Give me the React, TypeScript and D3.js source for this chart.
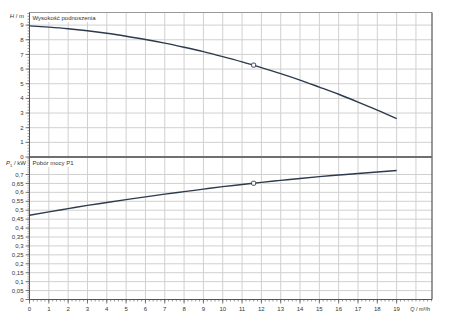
import React from "react";
import * as d3 from "d3";

// Pump curve: flow Q (m³/h) vs head H (m) and power input P1 (kW)
const flow = [0, 1, 2, 3, 4, 5, 6, 7, 8, 9, 10, 11, 12, 13, 14, 15, 16, 17, 18, 19];
const head = [8.95, 8.86, 8.75, 8.61, 8.44, 8.24, 8.02, 7.77, 7.49, 7.19, 6.85, 6.49, 6.1, 5.69, 5.25, 4.77, 4.28, 3.75, 3.2, 2.62];
const power = [0.472, 0.491, 0.509, 0.527, 0.543, 0.559, 0.575, 0.59, 0.604, 0.618, 0.632, 0.644, 0.656, 0.667, 0.678, 0.688, 0.697, 0.706, 0.714, 0.722];
const dutyPoint = { q: 11.6, h: 6.27, p: 0.651 };

const xTicks = d3.range(0, 20, 1);
const headTicks = d3.range(0, 10, 1);
const powerTicks = d3.range(0, 0.71, 0.05).map((v) => +v.toFixed(2));

const headTitle = "Wysokość podnoszenia";
const powerTitle = "Pobór mocy P1";

const W = 450;
const H = 331;
const left = 29.5;
const right = 432;
const top = 12.5;
const mid = 157;
const bottom = 299.5;

const fmt = (v: number) => String(v).replace(".", ",");

export default function App() {
  const x = d3.scaleLinear().domain([0, 20.83]).range([left, right]);
  const yH = d3.scaleLinear().domain([0, 9.86]).range([mid, top]);
  const yP = d3.scaleLinear().domain([0, 0.798]).range([bottom, mid]);

  const headLine = d3
    .line<number>()
    .x((_, i) => x(flow[i]))
    .y((d) => yH(d))
    .curve(d3.curveMonotoneX);
  const powerLine = d3
    .line<number>()
    .x((_, i) => x(flow[i]))
    .y((d) => yP(d))
    .curve(d3.curveMonotoneX);

  const gridX = d3.range(1, 21, 1);
  const minorX = d3.range(0, 20.81, 0.2);
  const minorH = d3.range(0, 9.85, 0.2);
  const minorP = d3.range(0, 0.796, 0.01);

  const grid = "#d0d0d0";
  const axis = "#555";
  const txt = "#333";
  const curve = "#2b3a4c";
  const font = "'Liberation Sans', Arial, sans-serif";

  return (
    <svg
      width={W}
      height={H}
      style={{ position: "absolute", left: 0, top: 0, background: "#fff" }}
      fontFamily={font}
    >
      {/* vertical grid */}
      {gridX.map((q) => (
        <line key={"gx" + q} x1={x(q)} x2={x(q)} y1={top} y2={bottom} stroke={grid} strokeWidth={1} />
      ))}
      {/* horizontal grid, head panel */}
      {headTicks.slice(1).map((h) => (
        <line key={"gh" + h} x1={left} x2={right} y1={yH(h)} y2={yH(h)} stroke={grid} strokeWidth={1} />
      ))}
      {/* horizontal grid, power panel */}
      {powerTicks.slice(1).map((p) => (
        <line key={"gp" + p} x1={left} x2={right} y1={yP(p)} y2={yP(p)} stroke={grid} strokeWidth={1} />
      ))}

      {/* frame */}
      <line x1={left} x2={right} y1={top} y2={top} stroke="#999" strokeWidth={1} />
      <line x1={right} x2={right} y1={top} y2={bottom} stroke={axis} strokeWidth={1.2} />
      <line x1={left} x2={right} y1={mid} y2={mid} stroke="#6f6f6f" strokeWidth={2} />
      <line x1={left} x2={left} y1={top} y2={bottom} stroke={axis} strokeWidth={1} />
      <line x1={left} x2={right} y1={bottom} y2={bottom} stroke={axis} strokeWidth={1} />

      {/* y minor ticks */}
      {minorH.map((h, i) => (
        <line key={"mh" + i} x1={left - 2} x2={left} y1={yH(h)} y2={yH(h)} stroke={axis} strokeWidth={0.6} />
      ))}
      {minorP.map((p, i) => (
        <line key={"mp" + i} x1={left - 2} x2={left} y1={yP(p)} y2={yP(p)} stroke={axis} strokeWidth={0.5} />
      ))}
      {/* y major ticks and labels */}
      {headTicks.map((h) => (
        <g key={"th" + h}>
          <line x1={left - 4} x2={left} y1={yH(h)} y2={yH(h)} stroke={axis} strokeWidth={0.8} />
          <text x={left - 6} y={yH(h)} dy="0.35em" textAnchor="end" fontSize={6} fill={txt}>
            {fmt(h)}
          </text>
        </g>
      ))}
      {powerTicks.map((p) => (
        <g key={"tp" + p}>
          <line x1={left - 4} x2={left} y1={yP(p)} y2={yP(p)} stroke={axis} strokeWidth={0.8} />
          <text x={left - 6} y={yP(p)} dy="0.35em" textAnchor="end" fontSize={6} fill={txt}>
            {fmt(p)}
          </text>
        </g>
      ))}

      {/* x ticks */}
      {minorX.map((q, i) => (
        <line key={"mx" + i} x1={x(q)} x2={x(q)} y1={bottom} y2={bottom + 2} stroke={axis} strokeWidth={0.6} />
      ))}
      {xTicks.map((q) => (
        <g key={"tx" + q}>
          <line x1={x(q)} x2={x(q)} y1={bottom} y2={bottom + 4} stroke={axis} strokeWidth={0.8} />
          <text x={x(q)} y={bottom + 11} textAnchor="middle" fontSize={6} fill={txt}>
            {q}
          </text>
        </g>
      ))}

      {/* axis titles */}
      <text x={24} y={18} textAnchor="end" fontSize={6} fill={txt}>
        <tspan fontStyle="italic">H</tspan> / m
      </text>
      <text x={26} y={165} textAnchor="end" fontSize={6} fill={txt}>
        <tspan fontStyle="italic">P</tspan>
        <tspan fontSize={4} dy={1.5}>1</tspan>
        <tspan dy={-1.5}> / kW</tspan>
      </text>
      <text x={right - 2} y={bottom + 11} textAnchor="end" fontSize={5.5} fill={txt}>
        <tspan fontStyle="italic">Q</tspan> / m³/h
      </text>

      {/* panel titles */}
      <rect x={left + 1} y={top + 1} width={63} height={8.5} fill="#fff" />
      <text x={left + 3} y={top + 7.5} fontSize={6} fill={txt}>
        {headTitle}
      </text>
      <rect x={left + 1} y={mid + 1.5} width={45} height={8.5} fill="#fff" />
      <text x={left + 3} y={mid + 8} fontSize={6} fill={txt}>
        {powerTitle}
      </text>

      {/* curves */}
      <path d={headLine(head) ?? ""} fill="none" stroke={curve} strokeWidth={1.4} />
      <path d={powerLine(power) ?? ""} fill="none" stroke={curve} strokeWidth={1.4} />

      {/* duty point markers */}
      <rect x={x(dutyPoint.q) - 2} y={yH(dutyPoint.h) - 2} width={4} height={4} rx={1} fill="#fff" stroke={curve} strokeWidth={0.9} />
      <rect x={x(dutyPoint.q) - 2} y={yP(dutyPoint.p) - 2} width={4} height={4} rx={1} fill="#fff" stroke={curve} strokeWidth={0.9} />
    </svg>
  );
}
